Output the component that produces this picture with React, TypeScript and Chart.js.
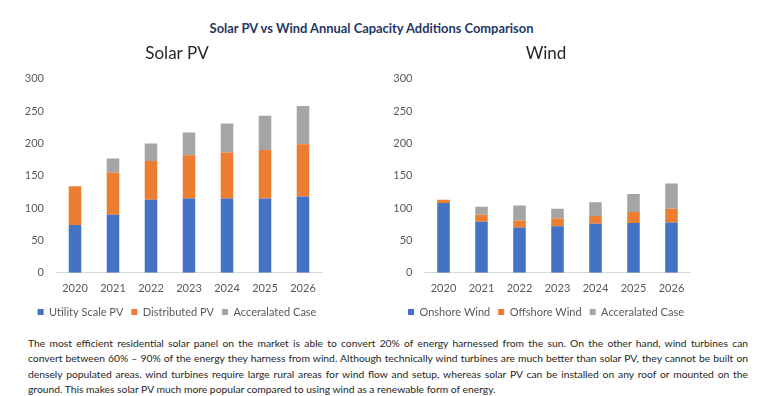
import React, { useEffect, useRef } from "react";
import { Chart, registerables } from "chart.js";

Chart.register(...registerables);

const years = ["2020", "2021", "2022", "2023", "2024", "2025", "2026"];
const utilityScalePV = [74, 90, 113, 115, 115, 115, 118];
const distributedPV = [60, 65, 60, 67, 71, 75, 81];
const solarAccelerated = [0, 22, 27, 35, 45, 53, 59];
const onshoreWind = [108, 79, 70, 72, 76, 77, 78];
const offshoreWind = [5, 11, 11, 12, 12, 17, 21];
const windAccelerated = [0, 12, 23, 15, 21, 28, 39];
const yMin = 0;
const yMax = 300;
const yStep = 50;

const mainTitle = "Solar PV vs Wind Annual Capacity Additions Comparison";
const paragraphLines = [
  "The most efficient residential solar panel on the market is able to convert 20% of energy harnessed from the sun. On the other hand, wind turbines can",
  "convert between 60% \u2013 90% of the energy they harness from wind. Although technically wind turbines are much better than solar PV, they cannot be built on",
  "densely populated areas. wind turbines require large rural areas for wind flow and setup, whereas solar PV can be installed on any roof or mounted on the",
  "ground. This makes solar PV much more popular compared to using wind as a renewable form of energy.",
];

const BLUE = "#4472C4";
const ORANGE = "#ED7D31";
const GRAY = "#A5A5A5";
const FONT = "Lato, 'Liberation Sans', sans-serif";

type Series = { label: string; data: number[]; color: string };

const legendLift = {
  id: "legendLift",
  afterLayout(chart: any) {
    const l = chart.legend;
    if (l) {
      l.top -= 5.5;
      l.bottom -= 5.5;
    }
  },
};

function StackChart(props: {
  title: string;
  series: Series[];
  left: number;
  width: number;
  padLeft: number;
  padRight: number;
  rightGap: number;
}) {
  const ref = useRef<HTMLCanvasElement | null>(null);
  useEffect(() => {
    if (!ref.current) return;
    const chart = new Chart(ref.current, {
      type: "bar",
      data: {
        labels: years,
        datasets: props.series.map((s) => ({
          label: s.label,
          data: s.data,
          backgroundColor: s.color,
          borderWidth: 0,
          categoryPercentage: 1,
          barPercentage: 0.33,
        })),
      },
      plugins: [legendLift],
      options: {
        responsive: false,
        animation: false,
        devicePixelRatio: 1,
        layout: { padding: { left: props.padLeft, right: props.padRight, top: 0, bottom: 0 } },
        plugins: {
          title: {
            display: true,
            text: props.title,
            color: "#262626",
            font: { family: FONT, size: 17, weight: "normal" },
            padding: { top: 9, bottom: 15.5 },
          },
          legend: {
            position: "bottom",
            labels: {
              boxWidth: 6,
              boxHeight: 6,
              padding: 8,
              color: "#595959",
              font: { family: FONT, size: 11 },
            },
          },
          tooltip: { enabled: false },
        },
        scales: {
          x: {
            stacked: true,
            grid: { display: false, drawTicks: false },
            border: { display: true, color: "#D9D9D9", width: 1 },
            ticks: { color: "#595959", font: { family: FONT, size: 11 }, padding: 9 },
          },
          y: {
            stacked: true,
            min: yMin,
            max: yMax,
            grid: { display: false, drawTicks: false },
            border: { display: false },
            ticks: { stepSize: yStep, color: "#595959", font: { family: FONT, size: 11 }, padding: 12 },
            afterFit: (scale: any) => {
              scale.width = 32;
            },
          },
          yGap: {
            type: "linear",
            position: "right",
            display: true,
            grid: { display: false, drawTicks: false },
            border: { display: false },
            ticks: { display: false },
            afterFit: (scale: any) => {
              scale.width = props.rightGap;
            },
          },
        },
      },
    });
    return () => chart.destroy();
  }, []);
  return (
    <canvas
      ref={ref}
      width={props.width}
      height={299}
      style={{ position: "absolute", left: props.left, top: 34, width: props.width, height: 299 }}
    />
  );
}

export default function App() {
  return (
    <div
      style={{
        position: "absolute",
        left: 0,
        top: 0,
        width: 761,
        height: 396,
        background: "#ffffff",
        overflow: "hidden",
        fontFamily: FONT,
      }}
    >
      <div
        style={{
          position: "absolute",
          left: 0,
          top: 19,
          width: 743,
          textAlign: "center",
          fontWeight: 700,
          fontSize: 12.9,
          lineHeight: "18px",
          color: "#1F3864",
        }}
      >
        {mainTitle}
      </div>
      <StackChart
        title="Solar PV"
        left={0}
        width={340}
        padLeft={24}
        padRight={10}
        rightGap={8}
        series={[
          { label: "Utility Scale PV", data: utilityScalePV, color: BLUE },
          { label: "Distributed PV", data: distributedPV, color: ORANGE },
          { label: "Acceralated Case", data: solarAccelerated, color: GRAY },
        ]}
      />
      <StackChart
        title="Wind"
        left={380}
        width={330}
        padLeft={12.5}
        padRight={10.5}
        rightGap={9}
        series={[
          { label: "Onshore Wind", data: onshoreWind, color: BLUE },
          { label: "Offshore Wind", data: offshoreWind, color: ORANGE },
          { label: "Acceralated Case", data: windAccelerated, color: GRAY },
        ]}
      />
      <div
        style={{
          position: "absolute",
          left: 28,
          top: 335.5,
          width: 720,
          fontSize: 10.3,
          lineHeight: "15.5px",
          color: "#262626",
        }}
      >
        {paragraphLines.map((line, i) => (
          <div
            key={i}
            style={{
              whiteSpace: "nowrap",
              textAlign: "justify",
              textAlignLast: i < paragraphLines.length - 1 ? "justify" : "left",
            }}
          >
            {line}
          </div>
        ))}
      </div>
    </div>
  );
}
